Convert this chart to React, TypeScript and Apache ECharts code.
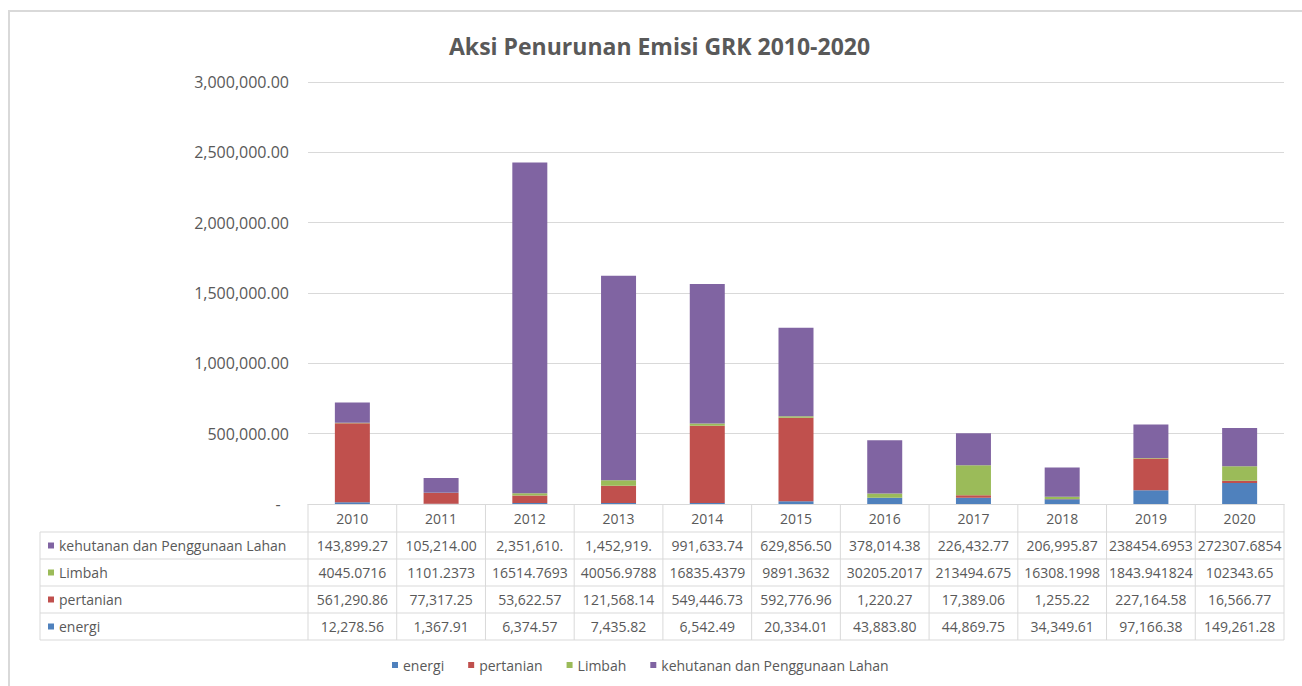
import React, { useEffect, useRef } from "react";
import * as echarts from "echarts";

const categories = ["2010", "2011", "2012", "2013", "2014", "2015", "2016", "2017", "2018", "2019", "2020"];

const seriesNames = ["energi", "pertanian", "Limbah", "kehutanan dan Penggunaan Lahan"];
const seriesColors = ["#4F81BD", "#C0504D", "#9BBB59", "#8064A2"];

const energi = [12278.56, 1367.91, 6374.57, 7435.82, 6542.49, 20334.01, 43883.8, 44869.75, 34349.61, 97166.38, 149261.28];
const pertanian = [561290.86, 77317.25, 53622.57, 121568.14, 549446.73, 592776.96, 1220.27, 17389.06, 1255.22, 227164.58, 16566.77];
const limbah = [4045.0716, 1101.2373, 16514.7693, 40056.9788, 16835.4379, 9891.3632, 30205.2017, 213494.675, 16308.1998, 1843.941824, 102343.65];
const kehutanan = [143899.27, 105214.0, 2351610, 1452919, 991633.74, 629856.5, 378014.38, 226432.77, 206995.87, 238454.6953, 272307.6854];

// table cell texts as displayed in the data table
const energiLabels = ["12,278.56", "1,367.91", "6,374.57", "7,435.82", "6,542.49", "20,334.01", "43,883.80", "44,869.75", "34,349.61", "97,166.38", "149,261.28"];
const pertanianLabels = ["561,290.86", "77,317.25", "53,622.57", "121,568.14", "549,446.73", "592,776.96", "1,220.27", "17,389.06", "1,255.22", "227,164.58", "16,566.77"];
const limbahLabels = ["4045.0716", "1101.2373", "16514.7693", "40056.9788", "16835.4379", "9891.3632", "30205.2017", "213494.675", "16308.1998", "1843.941824", "102343.65"];
const kehutananLabels = ["143,899.27", "105,214.00", "2,351,610.", "1,452,919.", "991,633.74", "629,856.50", "378,014.38", "226,432.77", "206,995.87", "238454.6953", "272307.6854"];

const yTicks = { min: 0, max: 3000000, interval: 500000 };

const FONT = "'Open Sans', sans-serif";
const TXT = "#595959";
const LINE = "#d9d9d9";

export default function App() {
  const ref = useRef<HTMLDivElement>(null);
  useEffect(() => {
    if (!ref.current) return;
    const chart = echarts.init(ref.current, null, { renderer: "svg" });
    const seriesData = [energi, pertanian, limbah, kehutanan];
    const gridLeft = 308, gridTop = 82, gridW = 976, gridH = 422;
    chart.setOption({
      animation: false,
      textStyle: { fontFamily: FONT },
      title: {
        text: "Aksi Penurunan Emisi GRK 2010-2020",
        left: 444,
        top: 29,
        textStyle: { fontSize: 23, fontWeight: "bold", color: TXT, fontFamily: FONT },
      },
      legend: {
        data: seriesNames,
        top: 653,
        left: 387,
        icon: "rect",
        itemWidth: 6,
        itemHeight: 6,
        itemGap: 24,
        textStyle: { fontSize: 14, color: TXT, fontFamily: FONT },
      },
      grid: { left: gridLeft, top: gridTop, width: gridW, height: gridH, containLabel: false },
      xAxis: {
        type: "category",
        data: categories,
        axisLine: { lineStyle: { color: LINE } },
        axisTick: { show: false },
        axisLabel: { show: false },
      },
      yAxis: {
        type: "value",
        min: yTicks.min,
        max: yTicks.max,
        interval: yTicks.interval,
        axisLine: { show: false },
        axisTick: { show: false },
        splitLine: { lineStyle: { color: LINE } },
        axisLabel: {
          fontSize: 16,
          color: TXT,
          fontFamily: FONT,
          margin: 19,
          formatter: (v: number) =>
            v === 0 ? "-  " : v.toLocaleString("en-US", { minimumFractionDigits: 2, maximumFractionDigits: 2 }),
        },
      },
      series: seriesNames.map((n, i) => ({
        name: n,
        type: "bar",
        stack: "total",
        barWidth: 35,
        itemStyle: { color: seriesColors[i] },
        data: seriesData[i],
      })),
    });

    // data table built from the arrays, positioned from the axis scale
    const xs = categories.map((c) => chart.convertToPixel({ xAxisIndex: 0 }, c) as number);
    const bw = xs.length > 1 ? xs[1] - xs[0] : gridW;
    const bounds = xs.map((x) => x - bw / 2).concat([xs[xs.length - 1] + bw / 2]);
    const tableTop = gridTop + gridH;
    const headerH = 28;
    const rowH = 27;
    const tableLeft = 40;
    const rows = [
      { name: seriesNames[3], color: seriesColors[3], labels: kehutananLabels },
      { name: seriesNames[2], color: seriesColors[2], labels: limbahLabels },
      { name: seriesNames[1], color: seriesColors[1], labels: pertanianLabels },
      { name: seriesNames[0], color: seriesColors[0], labels: energiLabels },
    ];
    const rowsTop = tableTop + headerH;
    const tableBottom = rowsTop + rows.length * rowH;
    const right = bounds[bounds.length - 1];
    const els: any[] = [];
    const line = (x1: number, y1: number, x2: number, y2: number) =>
      els.push({ type: "line", shape: { x1, y1, x2, y2 }, style: { stroke: LINE, lineWidth: 1 }, silent: true });
    // outer frame of the chart area
    els.push({
      type: "polyline",
      shape: { points: [[9, 686], [9, 11], [1302, 11]] },
      style: { stroke: LINE, lineWidth: 2, fill: null },
      silent: true,
    });
    bounds.forEach((bx) => line(bx, tableTop, bx, tableBottom));
    line(tableLeft, rowsTop, tableLeft, tableBottom);
    for (let r = 0; r <= rows.length; r++) line(tableLeft, rowsTop + r * rowH, right, rowsTop + r * rowH);
    categories.forEach((c, i) =>
      els.push({
        type: "text",
        x: xs[i],
        y: tableTop + headerH / 2,
        style: { text: c, fill: TXT, fontSize: 14, fontFamily: FONT, align: "center", verticalAlign: "middle" },
        silent: true,
      })
    );
    rows.forEach((row, r) => {
      const cy = rowsTop + r * rowH + rowH / 2;
      els.push({ type: "rect", shape: { x: 48, y: cy - 3, width: 6, height: 6 }, style: { fill: row.color }, silent: true });
      els.push({
        type: "text",
        x: 59,
        y: cy,
        style: { text: row.name, fill: TXT, fontSize: 14, fontFamily: FONT, align: "left", verticalAlign: "middle" },
        silent: true,
      });
      row.labels.forEach((t, i) =>
        els.push({
          type: "text",
          x: xs[i],
          y: cy,
          style: { text: t, fill: TXT, fontSize: 14, fontFamily: FONT, align: "center", verticalAlign: "middle" },
          silent: true,
        })
      );
    });
    chart.setOption({ graphic: { elements: els } });
    return () => chart.dispose();
  }, []);
  return (
    <div
      ref={ref}
      style={{ position: "absolute", left: 0, top: 0, width: 1302, height: 686, background: "#fff" }}
    />
  );
}
